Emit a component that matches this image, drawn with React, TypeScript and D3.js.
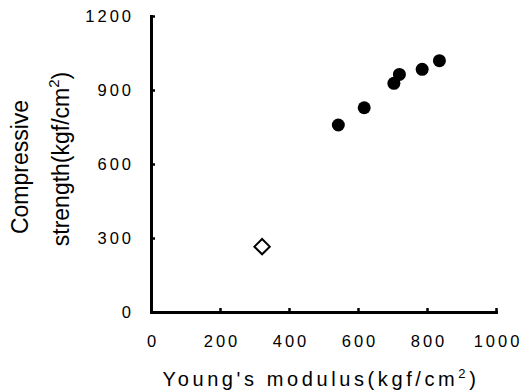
import React, { useEffect, useRef } from 'react'
import * as d3 from 'd3'

// Young's modulus (kgf/cm2) vs compressive strength (kgf/cm2)
const filledModulus = [543, 618, 704, 720, 786, 836]
const filledStrength = [758, 828, 927, 963, 984, 1019]
const openModulus = [322]
const openStrength = [265]

const xTicks = [0, 200, 400, 600, 800, 1000]
const yTicks = [0, 300, 600, 900, 1200]

const width = 523
const height = 392
const margin = { top: 16, right: 27, bottom: 80, left: 151 }

const font = '"Liberation Sans", Arial, Helvetica, sans-serif'

const xScale = d3.scaleLinear()
  .domain([0, 1000])
  .range([margin.left, width - margin.right])

const yScale = d3.scaleLinear()
  .domain([0, 1200])
  .range([height - margin.bottom, margin.top])

export default function App() {
  const ref = useRef<SVGSVGElement>(null)

  useEffect(() => {
    const svg = d3.select(ref.current)
    svg.selectAll('*').remove()

    // axes: ticks point into the plot
    const xAxis = d3.axisBottom(xScale).tickValues(xTicks).tickFormat(d3.format('d'))
      .tickSizeInner(-4).tickSizeOuter(0).tickPadding(23)
    const yAxis = d3.axisLeft(yScale).tickValues(yTicks).tickFormat(d3.format('d'))
      .tickSizeInner(-4).tickSizeOuter(0).tickPadding(20)

    const gx = svg.append('g')
      .attr('transform', `translate(0,${yScale(0)})`)
      .call(xAxis)
    const gy = svg.append('g')
      .attr('transform', `translate(${xScale(0)},0)`)
      .call(yAxis)

    for (const g of [gx, gy]) {
      g.select('.domain').attr('stroke', '#000').attr('stroke-width', 3).attr('stroke-linecap', 'square')
      g.selectAll('.tick line').attr('stroke', '#000').attr('stroke-width', 2.5)
      g.selectAll('.tick text')
        .attr('fill', '#000')
        .attr('font-family', font)
        .attr('font-size', 16.5)
        .attr('letter-spacing', 3)
    }
    gx.selectAll('.tick text').attr('dx', 1.5)
    gy.selectAll('.tick text').attr('dx', 3)

    // filled circles
    svg.selectAll('.dot')
      .data(filledModulus.map((m, i) => [m, filledStrength[i]]))
      .enter()
      .append('circle')
        .attr('class', 'dot')
        .attr('cx', d => xScale(d[0]))
        .attr('cy', d => yScale(d[1]))
        .attr('r', 6.5)
        .attr('fill', '#000')

    // open diamond
    svg.selectAll('.diamond')
      .data(openModulus.map((m, i) => [m, openStrength[i]]))
      .enter()
      .append('path')
        .attr('class', 'diamond')
        .attr('d', d3.symbol(d3.symbolDiamond2, 150))
        .attr('transform', d => `translate(${xScale(d[0])},${yScale(d[1])})`)
        .attr('fill', '#fff')
        .attr('stroke', '#000')
        .attr('stroke-width', 2)

    // x title
    const xt = svg.append('text')
      .attr('x', 321)
      .attr('y', 386)
      .attr('text-anchor', 'middle')
      .attr('font-family', font)
      .attr('font-size', 20)
      .attr('letter-spacing', 3.6)
    xt.append('tspan').text("Young's modulus(kgf/cm")
    xt.append('tspan').attr('dy', -8).attr('font-size', 13).text('2')
    xt.append('tspan').attr('dy', 8).text(')')

    // y title, two lines
    svg.append('text')
      .attr('transform', 'translate(28,167) rotate(-90)')
      .attr('text-anchor', 'middle')
      .attr('font-family', font)
      .attr('font-size', 23)
      .text('Compressive')
    const yt = svg.append('text')
      .attr('transform', 'translate(69,159) rotate(-90)')
      .attr('text-anchor', 'middle')
      .attr('font-family', font)
      .attr('font-size', 23)
    yt.append('tspan').text('strength(kgf/cm')
    yt.append('tspan').attr('dy', -10).attr('font-size', 15).text('2')
    yt.append('tspan').attr('dy', 10).text(')')
  }, [])

  return (
    <svg
      ref={ref}
      width={width}
      height={height}
      style={{ position: 'absolute', left: 0, top: 0, background: '#fff' }}
    />
  )
}
